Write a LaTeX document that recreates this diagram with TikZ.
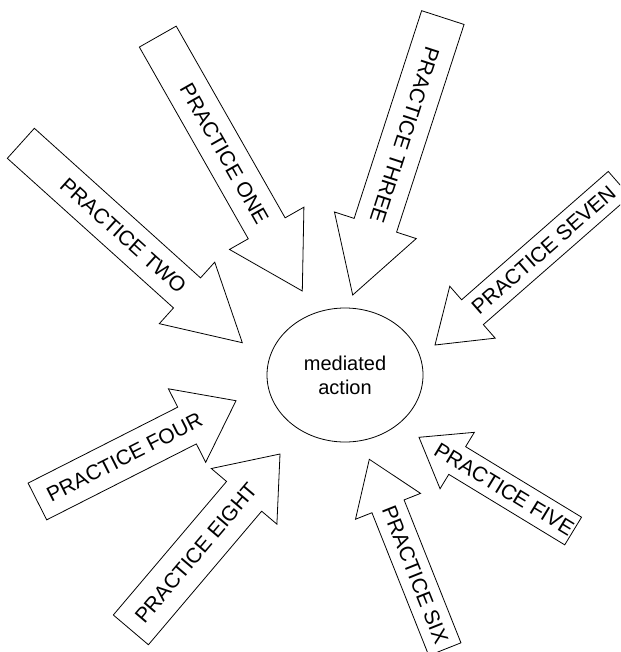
\documentclass[tikz,border=0pt]{standalone}
\usepackage{fontspec}
\setmainfont{Liberation Sans}
\usetikzlibrary{shapes.geometric}

% outline of a block arrow pointing along +x with its tip at the origin
% #1 total length, #2 half shaft width, #3 half head width, #4 head length
\newcommand\arrowoutline[4]{%
  \draw[blockarrow] (0,0) -- (-#4,#3) -- (-#4,#2) -- (-#1,#2) -- (-#1,-#2)
    -- (-#4,-#2) -- (-#4,-#3) -- cycle;}

\tikzset{
  blockarrow/.style={draw=black, line width=0.8pt, fill=white, line join=miter},
  practicetext/.style={font=\fontsize{21}{25}\selectfont, inner sep=0pt},
  centre/.style={ellipse, draw=black, line width=0.8pt, minimum width=156pt,
    minimum height=134pt, inner sep=0pt, align=center,
    font=\fontsize{20}{24}\selectfont},
}

\begin{document}
\begin{tikzpicture}[x=1pt, y=-1pt]
  \fill[white] (0,0) rectangle (620,652);
  \clip (0,0) rectangle (620,652);

  % central ellipse
  \node[centre] (action) at (345,375) {mediated\\action};

  % upper arrows
  \begin{scope}[shift={(302.3,291)}, rotate=-60.4]
    \arrowoutline{292.6}{21.2}{42.8}{72.1}
    \node[practicetext, rotate=-60.4] (one) at (-157.7,0) {PRACTICE ONE};
  \end{scope}
  \begin{scope}[shift={(242.3,342.7)}, rotate=-42.0]
    \arrowoutline{298}{20.2}{41.4}{74.4}
    \node[practicetext, rotate=-42.0] (two) at (-160,0) {PRACTICE TWO};
  \end{scope}
  \begin{scope}[shift={(352.7,295)}, rotate=-108.0]
    \arrowoutline{291.7}{22.3}{43}{73.3}
    \node[practicetext, rotate=-108.0] (three) at (-168.3,0) {PRACTICE THREE};
  \end{scope}
  \begin{scope}[shift={(435,345)}, rotate=-138.8]
    \arrowoutline{244.7}{16.5}{34.5}{49.8}
    \node[practicetext, rotate=41.2] (seven) at (-144.2,0) {PRACTICE SEVEN};
  \end{scope}

  % lower arrows
  \begin{scope}[shift={(236,400.7)}, rotate=26.9]
    \arrowoutline{222.7}{20.6}{41.2}{54.9}
    \node[practicetext, rotate=26.9] (four) at (-125,0) {PRACTICE FOUR};
  \end{scope}
  \begin{scope}[shift={(280,454)}, rotate=49.7]
    \arrowoutline{230.6}{23}{43}{55.5}
    \node[practicetext, rotate=49.7] (eight) at (-129.8,0) {PRACTICE EIGHT};
  \end{scope}
  \begin{scope}[shift={(419,437.3)}, rotate=148.7]
    \arrowoutline{180.4}{16.2}{33}{44.7}
    \node[practicetext, rotate=-31.3] (five) at (-99.8,0) {PRACTICE FIVE};
  \end{scope}
  \begin{scope}[shift={(369.3,459.3)}, rotate=111.7]
    \arrowoutline{204.4}{17.3}{35}{50.6}
    \node[practicetext, rotate=-68.3] (six) at (-124.2,0) {PRACTICE SIX};
  \end{scope}
\end{tikzpicture}
\end{document}
